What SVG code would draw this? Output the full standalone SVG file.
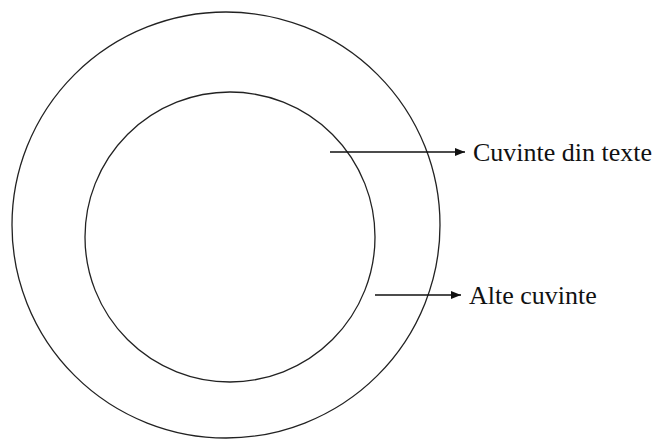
<svg xmlns="http://www.w3.org/2000/svg" width="658" height="440" viewBox="0 0 658 440">
<style>
.c{fill:none;stroke:#222;stroke-width:1.3}
.a{stroke:#111;stroke-width:1.5;fill:none}
.t{font-family:"Liberation Serif",serif;font-size:26px;fill:#111}
</style>
<defs>
<marker id="ah" markerWidth="10" markerHeight="8" refX="10" refY="4" orient="auto" markerUnits="userSpaceOnUse">
<path d="M0,0 L10,4 L0,8 Z" fill="#111"/>
</marker>
</defs>
<rect width="658" height="440" fill="#fff"/>
<g id="outer"><ellipse class="c" cx="226" cy="225" rx="214" ry="213"/></g>
<g id="inner"><ellipse class="c" cx="230" cy="237" rx="145" ry="145"/></g>
<g id="connectors">
<line class="a" x1="330" y1="152" x2="465" y2="152" marker-end="url(#ah)"/>
<line class="a" x1="375" y1="295" x2="461" y2="295" marker-end="url(#ah)"/>
</g>
<g id="label1"><text class="t" x="473" y="161">Cuvinte din texte</text></g>
<g id="label2"><text class="t" x="469" y="304">Alte cuvinte</text></g>
</svg>
